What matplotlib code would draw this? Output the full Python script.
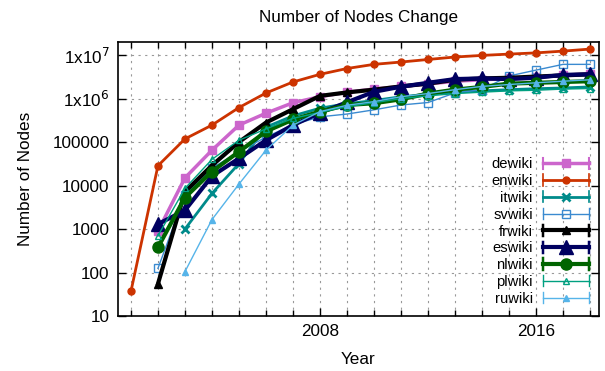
import numpy as np
import matplotlib
matplotlib.use("Agg")
import matplotlib.pyplot as plt
from matplotlib.ticker import MultipleLocator, FixedLocator, NullLocator
from matplotlib.legend_handler import HandlerLine2D
from matplotlib.lines import Line2D

plt.rcParams['font.family'] = ['Liberation Sans', 'DejaVu Sans']

# node counts per year
years_en = list(range(2001, 2019))
years_02 = list(range(2002, 2019))
years_03 = list(range(2003, 2019))

dewiki = [900, 15000, 65000, 245000, 460000, 800000, 1100000, 1400000, 1650000, 1900000,
          2150000, 2500000, 2700000, 2900000, 3100000, 3400000, 3700000]
enwiki = [37, 28500, 118000, 245000, 620000, 1340000, 2400000, 3600000, 4900000, 6100000,
          6900000, 7900000, 9000000, 9800000, 10500000, 11200000, 12300000, 13700000]
itwiki = [1000, 6600, 32000, 220000, 400000, 600000, 760000, 900000, 1100000, 1250000,
          1400000, 1500000, 1600000, 1680000, 1750000, 1850000]
svwiki = [125, 6000, 25000, 60000, 130000, 250000, 380000, 440000, 550000, 710000,
          810000, 1350000, 1600000, 3300000, 4500000, 6100000, 6100000]
frwiki = [55, 7200, 29000, 100000, 280000, 570000, 1150000, 1380000, 1600000, 1900000,
          2200000, 2700000, 2900000, 3000000, 3200000, 3400000, 3600000]
eswiki = [1300, 2700, 16500, 42000, 110000, 245000, 470000, 820000, 1430000, 1870000,
          2300000, 2800000, 2900000, 2800000, 3000000, 3500000, 3600000]
nlwiki = [380, 5300, 21000, 60000, 175000, 330000, 500000, 710000, 780000, 960000,
          1300000, 1600000, 1850000, 2200000, 2300000, 2400000, 2500000]
plwiki = [700, 8600, 40000, 110000, 200000, 350000, 480000, 650000, 800000, 1000000,
          1150000, 1300000, 1400000, 1500000, 1550000, 1650000, 1700000]
ruwiki = [105, 1650, 10800, 65000, 245000, 500000, 700000, 850000, 1100000, 1300000,
          1600000, 1900000, 2100000, 2300000, 2500000, 2700000]

series = [
    ("dewiki", years_02, dewiki, dict(color="#cc66cc", lw=2.5, marker="s", ms=6)),
    ("enwiki", years_en, enwiki, dict(color="#cc3300", lw=2.0, marker="o", ms=5)),
    ("itwiki", years_03, itwiki, dict(color="#008b8b", lw=2.0, marker="x", ms=6, mew=2)),
    ("svwiki", years_02, svwiki, dict(color="#3a8ad0", lw=1.0, marker="s", ms=6, mfc="none", mew=1)),
    ("frwiki", years_02, frwiki, dict(color="black", lw=3.0, marker="^", ms=6)),
    ("eswiki", years_02, eswiki, dict(color="#000060", lw=3.0, marker="^", ms=10)),
    ("nlwiki", years_02, nlwiki, dict(color="#006400", lw=3.0, marker="o", ms=8)),
    ("plwiki", years_02, plwiki, dict(color="#00a080", lw=1.0, marker="^", ms=5, mfc="none", mew=1)),
    ("ruwiki", years_03, ruwiki, dict(color="#56b4e9", lw=1.0, marker="^", ms=4)),
]


class CapHandler(HandlerLine2D):
    # gnuplot-like key sample: line with end caps
    def create_artists(self, legend, orig_handle, xdescent, ydescent, width, height, fontsize, trans):
        artists = super().create_artists(legend, orig_handle, xdescent, ydescent,
                                         width, height, fontsize, trans)
        y = height / 2.0 - ydescent
        caps = []
        for x in (-xdescent, width - xdescent):
            caps.append(Line2D([x, x], [y - 4, y + 4], color=orig_handle.get_color(),
                               lw=max(1.0, orig_handle.get_linewidth() * 0.6), transform=trans))
        return caps + artists


fig = plt.figure(figsize=(6.05, 3.71), dpi=100)
ax = fig.add_axes([0.195, 0.148, 0.795, 0.739])

for name, xs, ys, st in series:
    ax.plot(xs, ys, label=name, **st)

ax.set_yscale("log")
ax.set_ylim(10, 2e7)
ax.set_xlim(2000.52, 2018.33)

yt = [10, 100, 1000, 10000, 100000, 1e6, 1e7]
ylabels = ["10", "100", "1000", "10000", "100000", r"1x10$^{6}$", r"1x10$^{7}$"]
ax.yaxis.set_major_locator(FixedLocator(yt))
ax.yaxis.set_minor_locator(NullLocator())
ax.set_yticklabels(ylabels)
ax.xaxis.set_major_locator(MultipleLocator(8))
ax.xaxis.set_minor_locator(MultipleLocator(1))

ax.tick_params(which="both", direction="in", top=True, right=True, labelsize=12.3, width=1)
ax.tick_params(which="major", length=6, pad=6)
ax.tick_params(which="minor", length=4)
for sp in ax.spines.values():
    sp.set_linewidth(1.2)

ax.grid(True, which="major", axis="y", color="#999999", linestyle=(0, (2, 4)), lw=0.8)
ax.grid(True, which="both", axis="x", color="#999999", linestyle=(0, (2, 4)), lw=0.8)
ax.set_axisbelow(True)

ax.set_title("Number of Nodes Change", fontsize=12.3, pad=14)
ax.set_xlabel("Year", fontsize=12.3, labelpad=9)
ax.set_ylabel("Number of Nodes", fontsize=12.3, labelpad=14)

ax.legend(loc="lower right", frameon=False, markerfirst=False, numpoints=1,
          handlelength=3.1, handletextpad=0.7, labelspacing=0.19, fontsize=10.6,
          borderaxespad=0.3, handler_map={Line2D: CapHandler()})

fig.savefig("out.png", dpi=100)
